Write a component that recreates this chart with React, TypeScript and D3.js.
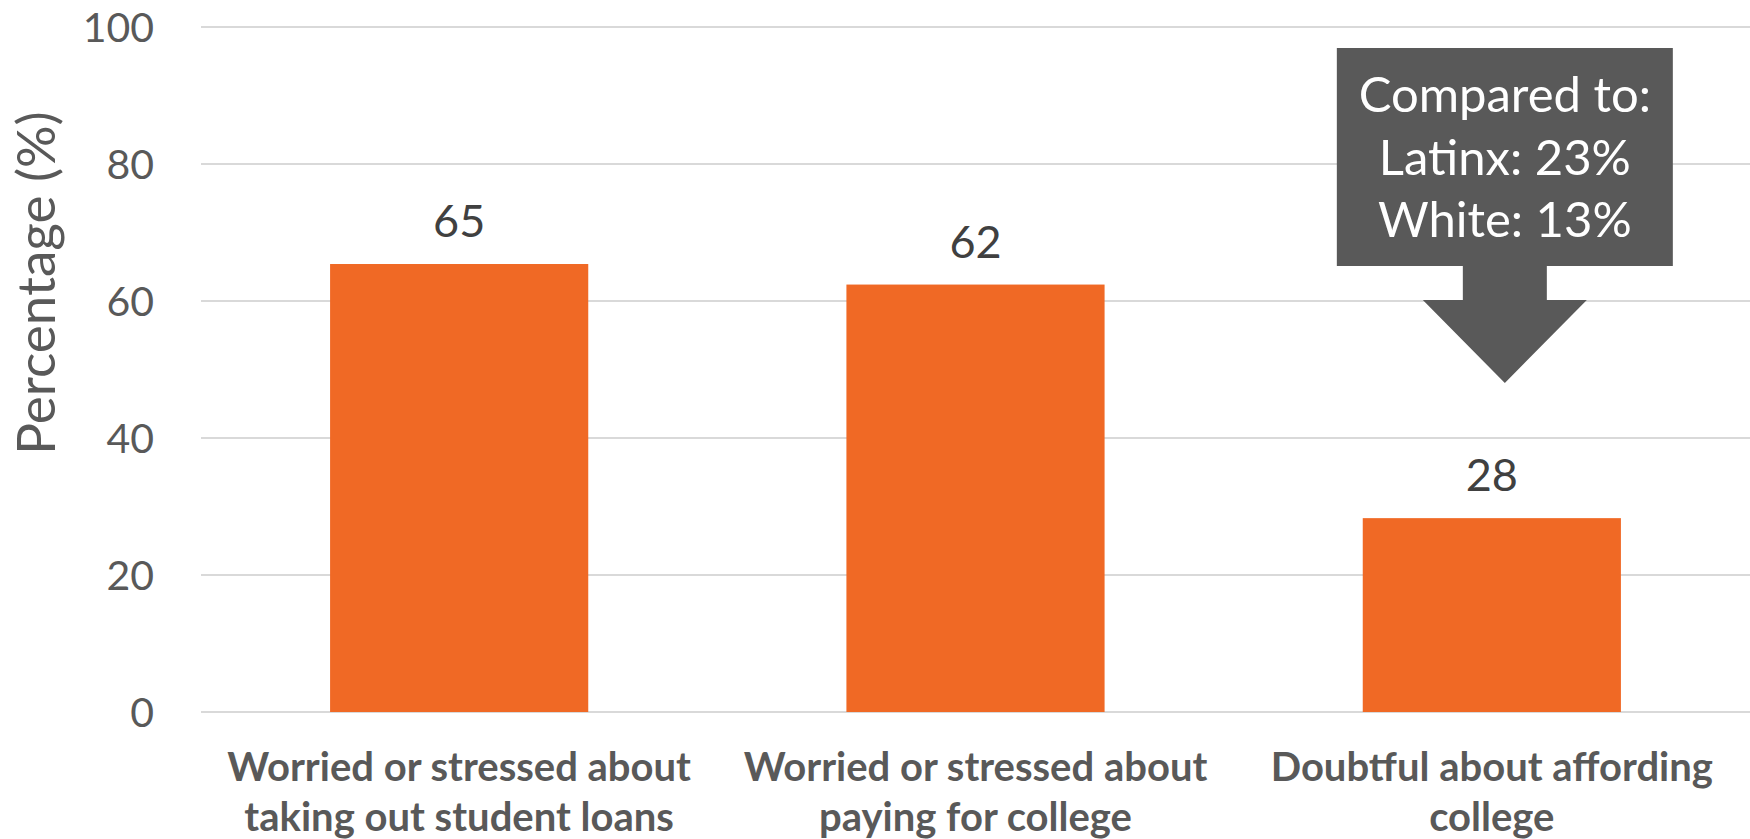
import { useEffect } from 'react';
import * as d3 from 'd3';

// chart values
const categories = [
  ['Worried or stressed about', 'taking out student loans'],
  ['Worried or stressed about', 'paying for college'],
  ['Doubtful about affording', 'college'],
];
const values = [65.4, 62.4, 28.3];
const yTicks = [0, 20, 40, 60, 80, 100];
const calloutLines = ['Compared to:', 'Latinx: 23%', 'White: 13%'];

const W = 1750;
const H = 839;
const margin = { top: 27, right: 0, bottom: 127, left: 201 };

const FONT = 'Lato, "Open Sans", sans-serif';

const App = () => {
  useEffect(() => {
    document.body.style.margin = '0';
  }, []);

  const x = d3
    .scaleBand()
    .domain(categories.map((_, i) => String(i)))
    .range([margin.left, W - margin.right])
    .paddingInner(0.5)
    .paddingOuter(0.25);
  const y = d3.scaleLinear().domain([0, 100]).range([H - margin.bottom, margin.top]);

  // callout sits over the third bar
  const cx = x('2')! + x.bandwidth() / 2 + 13;
  const boxTop = 48;
  const boxBottom = 266;
  const boxHalf = 168;
  const stemHalf = 42;
  const headHalf = 82;
  const headTop = 300;
  const tipY = 383;
  const arrowPath = [
    [cx - boxHalf, boxTop],
    [cx + boxHalf, boxTop],
    [cx + boxHalf, boxBottom],
    [cx + stemHalf, boxBottom],
    [cx + stemHalf, headTop],
    [cx + headHalf, headTop],
    [cx, tipY],
    [cx - headHalf, headTop],
    [cx - stemHalf, headTop],
    [cx - stemHalf, boxBottom],
    [cx - boxHalf, boxBottom],
  ];
  const line = d3.line();

  return (
    <svg width={W} height={H} style={{ display: 'block', background: '#fff' }} fontFamily={FONT}>
      {/* gridlines */}
      {yTicks.map((t) => (
        <line key={t} x1={margin.left} x2={W - margin.right} y1={y(t)} y2={y(t)} stroke="#d9d9d9" strokeWidth={2} />
      ))}
      {yTicks.map((t) => (
        <text key={'l' + t} x={154} y={y(t) + 15} textAnchor="end" fontSize={41} fill="#595959">
          {t}
        </text>
      ))}
      <text
        transform={`translate(55, 283) rotate(-90)`}
        textAnchor="middle"
        fontSize={53}
        fill="#595959"
      >
        Percentage (%)
      </text>

      {/* bars */}
      {values.map((v, i) => (
        <rect key={i} x={x(String(i))} y={y(v)} width={x.bandwidth()} height={y(0) - y(v)} fill="#f06925" />
      ))}
      {values.map((v, i) => (
        <text
          key={'v' + i}
          x={x(String(i))! + x.bandwidth() / 2}
          y={y(v) - 27}
          textAnchor="middle"
          fontSize={45}
          fill="#404040"
        >
          {Math.round(v)}
        </text>
      ))}

      {/* category labels */}
      {categories.map((lines, i) => (
        <text
          key={'c' + i}
          x={x(String(i))! + x.bandwidth() / 2}
          textAnchor="middle"
          fontSize={40}
          fontWeight="bold"
          fill="#595959"
        >
          {lines.map((l, j) => (
            <tspan key={j} x={x(String(i))! + x.bandwidth() / 2} y={781 + j * 50}>
              {l}
            </tspan>
          ))}
        </text>
      ))}

      {/* callout */}
      <path d={line(arrowPath as [number, number][])! + 'Z'} fill="#595959" />
      {calloutLines.map((l, i) => (
        <text key={'k' + i} x={cx} y={112 + i * 62.5} textAnchor="middle" fontSize={49} fill="#fff">
          {l}
        </text>
      ))}
    </svg>
  );
};

export default App;
